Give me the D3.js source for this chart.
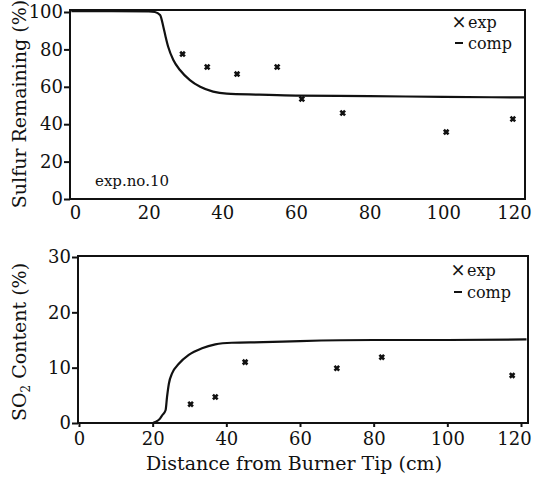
<!DOCTYPE html>
<html>
<head>
<meta charset="utf-8">
<script src="https://cdn.jsdelivr.net/npm/d3@7"></script>
<style>
  body { margin: 0; background: #fff; }
  svg text { font-family: "DejaVu Serif", "Liberation Serif", serif; fill: #111; }
</style>
</head>
<body>
<svg id="chart"></svg>
<script>
let w = 533;
let h = 480;

// x ticks shared by both panels
let xTicks = [0, 20, 40, 60, 80, 100, 120];

// top panel: sulfur remaining (%)
let sulfurTicks = [0, 20, 40, 60, 80, 100];
let sulfurExpX = [29.2, 35.9, 44.0, 54.9, 61.6, 72.7, 100.8, 118.9];
let sulfurExpY = [77.5, 70.6, 66.8, 70.6, 53.5, 46.0, 35.8, 42.8];
let sulfurCompX = [-1, 10, 20, 21.7, 23.1, 24.0, 24.6, 25.3, 26.7, 28.5, 31.2, 34.0, 37.5, 41.2, 50, 60, 80, 100, 122];
let sulfurCompY = [100.5, 100.5, 100.3, 100, 98.4, 92, 86.8, 81.4, 74.3, 69, 63.6, 60, 57.4, 56.3, 55.8, 55.3, 55, 54.6, 54.3];

// bottom panel: SO2 content (%)
let so2Ticks = [0, 10, 20, 30];
let so2ExpX = [30.3, 37.0, 45.1, 70.0, 82.2, 117.6];
let so2ExpY = [3.4, 4.7, 11.0, 9.9, 11.9, 8.6];
let so2CompX = [-0.3, 10, 20, 20.8, 22.0, 22.6, 23.5, 23.9, 24.4, 25.3, 27.1, 29.8, 33.4, 37.0, 41.5, 50, 60, 80, 100, 121.5];
let so2CompY = [0, 0, 0, 0.2, 0.8, 1.4, 2.3, 4.7, 7.1, 9.0, 10.7, 12.3, 13.5, 14.2, 14.5, 14.6, 14.8, 15.0, 15.0, 15.1];

let svg = d3.select("#chart").attr("width", w).attr("height", h);

function drawPanel(opt) {
  let xScale = d3.scaleLinear().domain(opt.xDomain).range([opt.left, opt.right]);
  let yScale = d3.scaleLinear().domain(opt.yDomain).range([opt.yZero, opt.yTop]);
  let g = svg.append("g");

  // frame
  g.append("rect")
    .attr("x", opt.left).attr("y", opt.top)
    .attr("width", opt.right - opt.left).attr("height", opt.bottom - opt.top)
    .attr("fill", "none").attr("stroke", "#111").attr("stroke-width", 2);

  // y axis
  let yAxis = d3.axisLeft(yScale).tickValues(opt.yTicks).tickSize(6).tickPadding(1);
  let yg = g.append("g").attr("transform", `translate(${opt.left},0)`).call(yAxis);
  yg.select(".domain").remove();
  yg.selectAll(".tick line").attr("stroke", "#111").attr("stroke-width", 2);
  yg.selectAll("text").attr("font-size", 18).attr("font-family", null);

  // x axis
  let xAxis = d3.axisBottom(xScale).tickValues(xTicks).tickSize(opt.xTickSize).tickPadding(opt.xPad);
  let xg = g.append("g").attr("transform", `translate(0,${opt.bottom})`).call(xAxis);
  xg.select(".domain").remove();
  xg.selectAll(".tick line").attr("stroke", "#111").attr("stroke-width", 2);
  xg.selectAll("text").attr("font-size", 18).attr("font-family", null)
    .attr("dx", (d) => (d === 120 ? opt.lastDx : 0));

  // computed curve
  let line = d3.line().x((d) => xScale(d[0])).y((d) => yScale(d[1])).curve(d3.curveMonotoneX);
  g.append("path")
    .datum(d3.zip(opt.compX, opt.compY))
    .attr("d", line)
    .attr("fill", "none").attr("stroke", "#111").attr("stroke-width", 2.2);

  // experimental points
  g.selectAll(".pt")
    .data(d3.zip(opt.expX, opt.expY))
    .enter()
    .append("path")
    .attr("class", "pt")
    .attr("transform", (d) => `translate(${xScale(d[0])},${yScale(d[1])})`)
    .attr("d", d3.symbol().type(d3.symbolX).size(16))
    .attr("stroke", "#111").attr("stroke-width", 2.6).attr("fill", "none");

  // y title
  g.append("text")
    .attr("transform", `translate(${opt.titleX},${opt.titleY}) rotate(-90)`)
    .attr("text-anchor", "middle")
    .attr("font-size", opt.titleSize)
    .html(opt.title);

  // legend
  let lg = g.append("g").attr("transform", `translate(${opt.legX},${opt.legY})`);
  lg.append("text").attr("x", 0).attr("y", 0).attr("font-size", 18).attr("text-anchor", "middle").text("\u00d7");
  lg.append("text").attr("x", 9).attr("y", 0).attr("font-size", 16).text("exp");
  lg.append("line").attr("x1", -4).attr("x2", 4).attr("y1", opt.legGap - 6).attr("y2", opt.legGap - 6)
    .attr("stroke", "#111").attr("stroke-width", 2);
  lg.append("text").attr("x", 9).attr("y", opt.legGap).attr("font-size", 16).text("comp");
  return g;
}

let topPanel = drawPanel({
  left: 70, right: 525, top: 10, bottom: 199,
  xDomain: [-1.36, 122.2], yDomain: [0, 100], yZero: 199, yTop: 12,
  yTicks: sulfurTicks, xTickSize: 0, xPad: 7, lastDx: -3,
  compX: sulfurCompX, compY: sulfurCompY, expX: sulfurExpX, expY: sulfurExpY,
  title: "Sulfur Remaining (%)", titleX: 26, titleY: 104, titleSize: 19,
  legX: 459, legY: 28, legGap: 21
});

topPanel.append("text").attr("x", 95).attr("y", 186).attr("font-size", 15).text("exp.no.10");

drawPanel({
  left: 78, right: 528, top: 256, bottom: 423,
  xDomain: [-0.27, 121.9], yDomain: [0, 30], yZero: 423, yTop: 257,
  yTicks: so2Ticks, xTickSize: 4, xPad: 5, lastDx: -7,
  compX: so2CompX, compY: so2CompY, expX: so2ExpX, expY: so2ExpY,
  title: "SO<tspan font-size='12' dy='4'>2</tspan><tspan dy='-4'> Content (%)</tspan>", titleX: 26, titleY: 342, titleSize: 19,
  legX: 458, legY: 276, legGap: 22
});

svg.append("text")
  .attr("x", 294).attr("y", 470)
  .attr("text-anchor", "middle")
  .attr("font-size", 19)
  .text("Distance from Burner Tip (cm)");
</script>
</body>
</html>
